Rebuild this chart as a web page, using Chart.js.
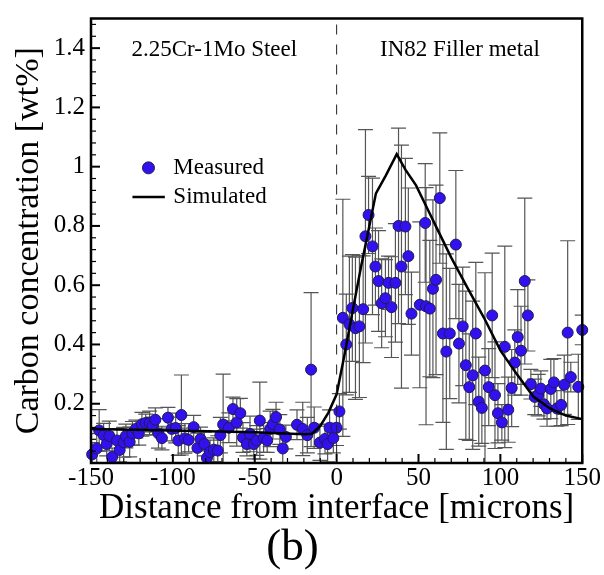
<!DOCTYPE html>
<html>
<head>
<meta charset="utf-8">
<script src="https://cdn.jsdelivr.net/npm/chart.js@4/dist/chart.umd.min.js"></script>
<style>
  html, body { margin: 0; padding: 0; background: #fff; }
  #wrap { width: 604px; height: 575px; }
</style>
</head>
<body>
<div id="wrap"><canvas id="carbonChart" width="604" height="575"></canvas></div>
<script>
// measured carbon profile (microns, wt%, +/- error)
var measuredX = [-149.3,-146.5,-145,-142.3,-140.4,-138.8,-137.1,-134.1,-132.5,-130.1,
  -128.7,-126.4,-124.7,-122.6,-120.8,-118.9,-116.6,-114.2,-112.4,-110.7,
  -108.8,-106.7,-103,-100.7,-98.3,-96.7,-94.8,-92.7,-90.4,-87.3,
  -85,-83.1,-80.8,-79.2,-77.3,-75,-72.6,-71,-69.3,-65.8,
  -63.3,-61,-58.8,-57.2,-54.8,-52.9,-50.6,-48.8,-46.9,-44.6,
  -42.4,-40.6,-38.9,-37,-34.7,-32.9,-31,-24.2,-20.7,-17.9,
  -15.6,-13.7,-10.2,-7.1,-5.5,-4.3,-2,-0.1,1.7,
  3.8,5.9,7.8,9.6,11.5,13.9,16.2,17.6,19.5,21.9,
  23.7,25.6,27.5,29.8,31.7,33.5,35.9,37.8,39.6,42,
  43.8,45.7,50.8,54.1,54.6,56.9,58.8,60.7,63,64.9,
  67,69.1,72.8,74.7,77,78.9,81,83.1,85,86.8,
  88.7,90.6,92.9,95,96.7,98.5,100.9,102.7,104.8,106.9,
  108.8,110.6,112.6,114.9,116.8,118.6,121,123.1,124.7,126.6,
  128.5,130.8,132.7,134.5,137.1,139,141.1,143,147.6,150];
var measuredC = [0.029,0.049,0.11,0.094,0.064,0.091,0.02,0.076,0.044,0.07,
  0.091,0.071,0.10,0.115,0.10,0.131,0.135,0.135,0.125,0.146,
  0.10,0.084,0.153,0.115,0.118,0.076,0.162,0.083,0.078,0.121,
  0.051,0.081,0.064,0.017,0.037,0.045,0.042,0.094,0.13,0.119,
  0.182,0.137,0.168,0.086,0.064,0.098,0.064,0.076,0.143,0.086,
  0.076,0.115,0.131,0.155,0.113,0.049,0.088,0.129,0.115,0.094,
  0.315,0.119,0.069,0.081,0.064,0.119,0.084,0.119,0.174,
  0.49,0.40,0.468,0.523,0.455,0.461,0.519,0.765,0.837,0.731,
  0.663,0.614,0.539,0.556,0.608,0.526,0.608,0.80,0.663,0.798,
  0.698,0.504,0.534,0.81,0.529,0.521,0.588,0.618,0.894,0.437,
  0.376,0.437,0.737,0.403,0.461,0.33,0.256,0.296,0.437,0.207,
  0.186,0.312,0.256,0.498,0.229,0.168,0.137,0.392,0.18,0.253,
  0.339,0.425,0.379,0.614,0.498,0.266,0.223,0.229,0.251,0.198,
  0.184,0.25,0.272,0.184,0.196,0.264,0.44,0.29,0.257,0.449];
var measuredErr = [0.04,0.05,0.07,0.04,0.04,0.05,0.03,0.04,0.04,0.05,
  0.04,0.05,0.04,0.03,0.04,0.04,0.03,0.04,0.03,0.04,
  0.05,0.04,0.035,0.04,0.05,0.05,0.135,0.05,0.04,0.04,
  0.05,0.04,0.04,0.03,0.04,0.04,0.05,0.06,0.17,0.05,
  0.04,0.08,0.05,0.05,0.04,0.06,0.05,0.05,0.13,0.05,
  0.04,0.06,0.05,0.05,0.05,0.05,0.04,0.05,0.09,0.06,
  0.26,0.07,0.06,0.05,0.06,0.06,0.05,0.06,0.06,
  0.40,0.17,0.23,0.18,0.24,0.24,0.18,0.36,0.13,0.23,
  0.13,0.17,0.15,0.13,0.09,0.17,0.2,0.33,0.41,0.23,
  0.23,0.14,0.28,0.2,0.4,0.23,0.3,0.32,0.22,0.3,
  0.33,0.22,0.25,0.2,0.2,0.25,0.18,0.25,0.24,0.15,
  0.12,0.33,0.13,0.21,0.18,0.1,0.06,0.34,0.11,0.13,
  0.11,0.16,0.15,0.28,0.12,0.05,0.06,0.07,0.06,0.05,
  0.06,0.1,0.08,0.06,0.07,0.1,0.31,0.05,0.11,0.05];

// simulated profile
var simX = [-150,-100,-50,-20,-15,-10,-5,0,5,10,15,20,24,30,36.7,42,48.5,55,60,70,80,90,100,110,120,130,140,150];
var simC = [0.115,0.110,0.104,0.097,0.099,0.125,0.17,0.232,0.37,0.52,0.665,0.80,0.91,0.97,1.042,0.99,0.937,0.863,0.806,0.693,0.59,0.49,0.38,0.30,0.225,0.185,0.16,0.148];

var xTicks = [-150,-100,-50,0,50,100,150];
var yTicks = [0.2,0.4,0.6,0.8,1,1.2,1.4];

var SERIF = '"Liberation Serif", "DejaVu Serif", serif';

var measuredPts = measuredX.map(function (x, i) { return {x: x, y: measuredC[i]}; });
var simPts = simX.map(function (x, i) { return {x: x, y: simC[i]}; });

// error bars, under the markers
var errorBars = {
  id: 'errorBars',
  beforeDatasetsDraw: function (chart) {
    var ctx = chart.ctx, xs = chart.scales.x, ys = chart.scales.y, a = chart.chartArea;
    ctx.save();
    ctx.beginPath();
    ctx.rect(a.left, a.top, a.right - a.left, a.bottom - a.top);
    ctx.clip();
    ctx.strokeStyle = '#555';
    ctx.lineWidth = 1.2;
    measuredX.forEach(function (x, i) {
      var px = xs.getPixelForValue(x);
      var top = ys.getPixelForValue(measuredC[i] + measuredErr[i]);
      var bot = ys.getPixelForValue(measuredC[i] - measuredErr[i]);
      ctx.beginPath();
      ctx.moveTo(px, top); ctx.lineTo(px, bot);
      ctx.moveTo(px - 7.5, top); ctx.lineTo(px + 7.5, top);
      ctx.moveTo(px - 7.5, bot); ctx.lineTo(px + 7.5, bot);
      ctx.stroke();
    });
    ctx.restore();
  }
};

// frame, inward ticks, interface line, labels and legend
var decorations = {
  id: 'decorations',
  afterDraw: function (chart) {
    var ctx = chart.ctx, xs = chart.scales.x, ys = chart.scales.y, a = chart.chartArea;
    ctx.save();

    // dashed interface line
    ctx.strokeStyle = '#222';
    ctx.lineWidth = 1;
    ctx.setLineDash([10, 10]);
    ctx.beginPath();
    ctx.moveTo(xs.getPixelForValue(0), a.top + 6);
    ctx.lineTo(xs.getPixelForValue(0), a.bottom);
    ctx.stroke();
    ctx.setLineDash([]);

    // ticks
    ctx.strokeStyle = '#000';
    for (var v = -150; v <= 150; v += 10) {
      var major = v % 50 === 0;
      var px = xs.getPixelForValue(v);
      ctx.lineWidth = major ? 2 : 1.2;
      ctx.beginPath();
      ctx.moveTo(px, a.bottom);
      ctx.lineTo(px, a.bottom - (major ? 9 : 5));
      ctx.stroke();
    }
    for (var k = 0; k <= 37; k++) {
      var val = k * 0.04;
      var maj = k % 5 === 0;
      var py = ys.getPixelForValue(val);
      ctx.lineWidth = maj ? 2 : 1.2;
      ctx.beginPath();
      ctx.moveTo(a.left, py);
      ctx.lineTo(a.left + (maj ? 9 : 5), py);
      ctx.stroke();
    }

    // frame
    ctx.lineWidth = 2.5;
    ctx.strokeRect(a.left, a.top, a.right - a.left, a.bottom - a.top);

    // region labels
    ctx.fillStyle = '#000';
    ctx.font = '23px ' + SERIF;
    ctx.textAlign = 'center';
    ctx.textBaseline = 'middle';
    ctx.fillText('2.25Cr-1Mo Steel', xs.getPixelForValue(-74.7), ys.getPixelForValue(1.393));
    ctx.fillText('IN82 Filler metal', xs.getPixelForValue(75.3), ys.getPixelForValue(1.393));

    // legend
    ctx.textAlign = 'left';
    var mx = xs.getPixelForValue(-114.9), my = ys.getPixelForValue(0.996);
    ctx.beginPath();
    ctx.arc(mx, my, 6, 0, Math.PI * 2);
    ctx.fillStyle = '#3311ee';
    ctx.fill();
    ctx.lineWidth = 1;
    ctx.strokeStyle = '#1b1b55';
    ctx.stroke();
    ctx.fillStyle = '#000';
    ctx.fillText('Measured', xs.getPixelForValue(-99.7), my);
    var ly = ys.getPixelForValue(0.898);
    ctx.strokeStyle = '#000';
    ctx.lineWidth = 2.5;
    ctx.beginPath();
    ctx.moveTo(xs.getPixelForValue(-124.7), ly);
    ctx.lineTo(xs.getPixelForValue(-104.9), ly);
    ctx.stroke();
    ctx.fillText('Simulated', xs.getPixelForValue(-99.7), ly);

    ctx.restore();
  }
};

var ctx1 = document.getElementById('carbonChart').getContext('2d');
var carbonChart = new Chart(ctx1, {
  type: 'scatter',
  data: {
    datasets: [{
      label: 'Measured',
      data: measuredPts,
      backgroundColor: '#3311ee',
      borderColor: '#1b1b55',
      borderWidth: 1,
      pointRadius: 5.5,
      clip: false,
      order: 1
    }, {
      label: 'Simulated',
      data: simPts,
      showLine: true,
      borderColor: '#000',
      borderWidth: 2.5,
      pointRadius: 0,
      tension: 0,
      order: 0
    }]
  },
  options: {
    responsive: false,
    animation: false,
    devicePixelRatio: 1,
    layout: { padding: { left: 0, right: 19, top: 13, bottom: 0 } },
    plugins: {
      legend: { display: false },
      tooltip: { enabled: false },
      title: {
        display: true,
        text: '(b)',
        position: 'bottom',
        color: '#000',
        font: { family: SERIF, size: 45, weight: 'normal', lineHeight: 1 },
        padding: { top: 0, bottom: 4 }
      }
    },
    scales: {
      x: {
        type: 'linear',
        min: -150,
        max: 150,
        grid: { display: false, drawTicks: false },
        border: { display: false },
        afterBuildTicks: function (s) { s.ticks = xTicks.map(function (v) { return {value: v}; }); },
        afterFit: function (s) { s.height = 63; },
        ticks: {
          color: '#000',
          padding: 3,
          maxRotation: 0,
          autoSkip: false,
          font: { family: SERIF, size: 25, lineHeight: 1 }
        },
        title: {
          display: true,
          text: 'Distance from interface [microns]',
          color: '#000',
          padding: 0,
          font: { family: SERIF, size: 35, lineHeight: 1 }
        }
      },
      y: {
        min: 0,
        max: 1.5,
        grid: { display: false, drawTicks: false },
        border: { display: false },
        afterBuildTicks: function (s) { s.ticks = yTicks.map(function (v) { return {value: v}; }); },
        afterFit: function (s) { s.width = 91; },
        ticks: {
          color: '#000',
          padding: 6,
          font: { family: SERIF, size: 25, lineHeight: 1 },
          callback: function (v) { return String(v); }
        },
        title: {
          display: true,
          text: 'Carbon concentration [wt%]',
          color: '#000',
          padding: { top: 12, bottom: 0 },
          font: { family: SERIF, size: 34, lineHeight: 1 }
        }
      }
    }
  },
  plugins: [errorBars, decorations]
});
</script>
</body>
</html>
